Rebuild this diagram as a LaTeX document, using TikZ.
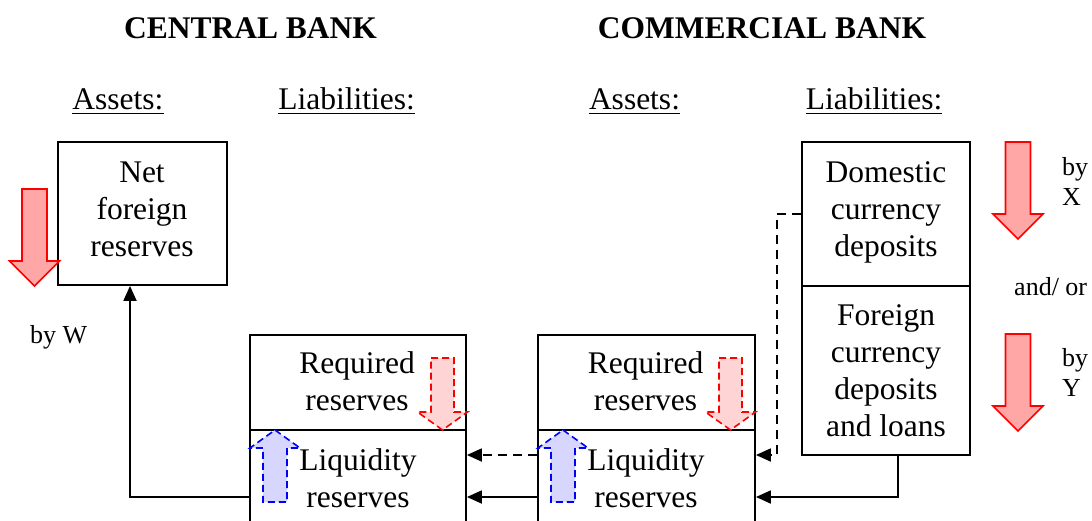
\documentclass[tikz,border=0pt]{standalone}
\usepackage{fontspec}
\setmainfont{Liberation Serif}
\usetikzlibrary{arrows.meta}
\begin{document}
\begin{tikzpicture}[x=1pt,y=-1pt,
 box/.style={draw, line width=1.8pt, inner sep=0pt},
 big/.style={font=\fontsize{31.5}{37}\selectfont, align=center, inner sep=0pt, anchor=north},
 lbl/.style={font=\fontsize{26}{30}\selectfont, align=left, inner sep=0pt},
 ttl/.style={font=\fontsize{31.5}{37}\selectfont\bfseries, inner sep=0pt, anchor=base},
 head/.style={font=\fontsize{31.5}{37}\selectfont, inner sep=0pt, anchor=base},
 uline/.style={line width=1.8pt},
 conn/.style={line width=1.8pt, -{Triangle[length=15pt,width=13pt]}},
 dconn/.style={conn, dash pattern=on 9pt off 6pt},
 bigarrow/.style={draw=red, line width=1.6pt, fill=red!35, line join=miter},
 redsmall/.style={draw=red, line width=1.6pt, fill=red!17, dash pattern=on 7pt off 4pt},
 bluesmall/.style={draw=blue, line width=1.6pt, fill=blue!16, dash pattern=on 7pt off 4pt},
 bigdown/.pic={\path[bigarrow] (-12.5,0) -- (12.5,0) -- (12.5,72) -- (25,72) -- (0,97) -- (-25,72) -- (-12.5,72) -- cycle;},
 smalldown/.pic={\path[redsmall] (-11.5,0) -- (11.5,0) -- (11.5,54) -- (25,54) -- (0,72) -- (-25,54) -- (-11.5,54) -- cycle;},
 smallup/.pic={\path[bluesmall] (0,0) -- (25,18) -- (12,18) -- (12,72) -- (-12,72) -- (-12,18) -- (-25,18) -- cycle;},
]
\useasboundingbox (0,0) rectangle (1092,521);
\clip (0,0) rectangle (1092,521);

% titles
\node[ttl] (t1) at (250.5,39) {CENTRAL BANK};
\node[ttl] (t2) at (762,39) {COMMERCIAL BANK};

% headings
\node[head] (h1) at (118,110) {Assets:};
\node[head] (h2) at (346.5,110) {Liabilities:};
\node[head] (h3) at (634.5,110) {Assets:};
\node[head] (h4) at (874,110) {Liabilities:};
\foreach \h in {h1,h2,h3,h4}
  \draw[uline] ([yshift=-3.5pt]\h.base west) -- ([yshift=-3.5pt]\h.base east);

% boxes
\node[box, minimum width=169pt, minimum height=143pt] (nfr) at (142.5,213.5) {};
\node[box, minimum width=216pt, minimum height=95pt] (cbreq) at (358,382.5) {};
\node[box, minimum width=216pt, minimum height=110pt] (cbliq) at (358,485) {};
\node[box, minimum width=217pt, minimum height=95pt] (cmreq) at (646.5,382.5) {};
\node[box, minimum width=217pt, minimum height=110pt] (cmliq) at (646.5,485) {};
\node[box, minimum width=168pt, minimum height=144pt] (dom) at (886,214) {};
\node[box, minimum width=168pt, minimum height=169pt] (fcd) at (886,370.5) {};

% box texts
\node[big] (nfrt) at (142,156.1) {\strut Net\\foreign\\reserves};
\node[big] (cbreqt) at (357,347.1) {\strut Required\\reserves};
\node[big] (cbliqt) at (358,444.1) {\strut Liquidity\\reserves};
\node[big] (cmreqt) at (645.5,347.1) {\strut Required\\reserves};
\node[big] (cmliqt) at (646,444.1) {\strut Liquidity\\reserves};
\node[big] (domt) at (886,156.1) {\strut Domestic\\currency\\deposits};
\node[big] (fcdt) at (886,299.1) {\strut Foreign\\currency\\deposits\\and loans};

% side labels
\node[lbl, anchor=base west] (lw) at (30,343) {by W};
\node[lbl, anchor=north west] (lx) at (1062,154) {\strut by\\X};
\node[lbl, anchor=base west] (lao) at (1014,295) {and/ or};
\node[lbl, anchor=north west] (ly) at (1062,345) {\strut by\\Y};

% big red arrows
\pic at (34.5,189) {bigdown};
\pic at (1018,142) {bigdown};
\pic at (1018,334) {bigdown};

% small dashed arrows
\pic at (442.5,358) {smalldown};
\pic at (730.5,358) {smalldown};
\pic at (275,430) {smallup};
\pic at (563,430) {smallup};

% connectors
\draw[conn] ([yshift=-12pt]cbliq.west) -| ([xshift=-12.5pt]nfr.south);
\draw[conn] ([xshift=12pt]fcd.south) |- ([yshift=-12pt]cmliq.east);
\draw[dconn] (dom.west) -- ++(-24,0) |- ([yshift=30pt]cmliq.east);
\draw[dconn] ([yshift=30pt]cmliq.west) -- ([yshift=30pt]cbliq.east);
\draw[conn] ([yshift=-12pt]cmliq.west) -- ([yshift=-12pt]cbliq.east);
\end{tikzpicture}
\end{document}
